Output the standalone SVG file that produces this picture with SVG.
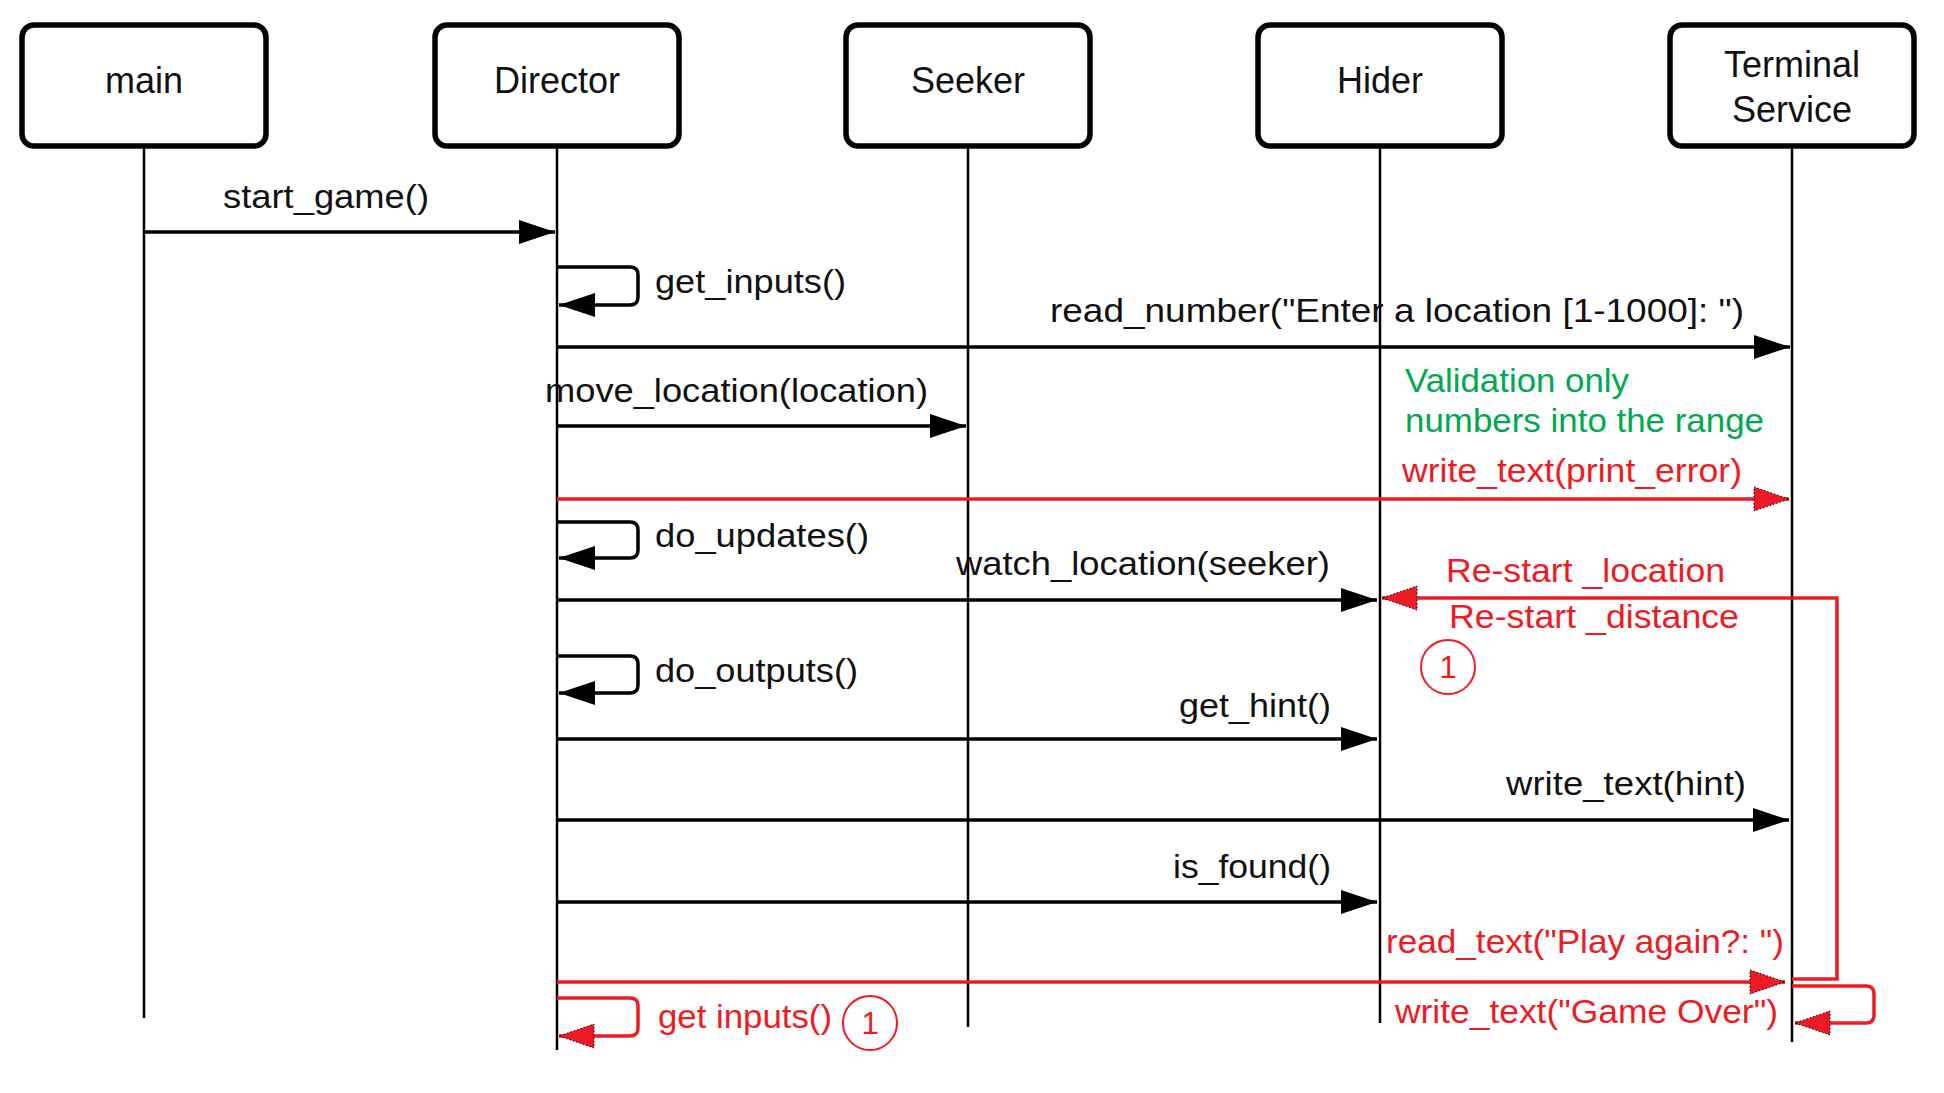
<svg xmlns="http://www.w3.org/2000/svg" width="1944" height="1093" viewBox="0 0 1944 1093">
<style>
.box{fill:#fff;stroke:#000;stroke-width:5.5}
.life{stroke:#000;stroke-width:2.5;fill:none}
.msg{stroke:#000;stroke-width:3.5;fill:none}
.rmsg{stroke:#ED1C24;stroke-width:3.5;fill:none}
.lbl{font-family:"Liberation Sans",Arial,sans-serif;font-size:36px;fill:#111;text-anchor:middle}
.t{font-family:"Liberation Sans",Arial,sans-serif;font-size:34px;fill:#111}
.tr{font-family:"Liberation Sans",Arial,sans-serif;font-size:34px;fill:#ED1C24}
.tg{font-family:"Liberation Sans",Arial,sans-serif;font-size:34px;fill:#00A94F}
.circ{fill:none;stroke:#ED1C24;stroke-width:2}
.num{font-family:"Liberation Sans",Arial,sans-serif;font-size:31px;fill:#ED1C24;text-anchor:middle}
</style>
<defs>
<marker id="ah" markerUnits="userSpaceOnUse" markerWidth="36" markerHeight="24" refX="36" refY="12" orient="auto">
<path d="M0,0 L36,12 L0,24 z" fill="#000"/>
</marker>
<marker id="rah" markerUnits="userSpaceOnUse" markerWidth="38" markerHeight="26" refX="36" refY="13" orient="auto">
<path d="M1,1 L36,13 L1,25 z" fill="#ED1C24" stroke="#000" stroke-width="1" stroke-dasharray="1.5 2"/>
</marker>
</defs>
<rect width="1944" height="1093" fill="#fff"/>

<g id="main">
<rect class="box" x="22" y="25" width="244" height="121" rx="12"/>
<text class="lbl" x="144" y="93">main</text>
<line class="life" x1="144" y1="148" x2="144" y2="1018"/>
</g>
<g id="director">
<rect class="box" x="435" y="25" width="244" height="121" rx="12"/>
<text class="lbl" x="557" y="93">Director</text>
<line class="life" x1="557" y1="148" x2="557" y2="1050"/>
</g>
<g id="seeker">
<rect class="box" x="846" y="25" width="244" height="121" rx="12"/>
<text class="lbl" x="968" y="93">Seeker</text>
<line class="life" x1="968" y1="148" x2="968" y2="1027"/>
</g>
<g id="hider">
<rect class="box" x="1258" y="25" width="244" height="121" rx="12"/>
<text class="lbl" x="1380" y="93">Hider</text>
<line class="life" x1="1380" y1="148" x2="1380" y2="1023"/>
</g>
<g id="terminal">
<rect class="box" x="1670" y="25" width="244" height="121" rx="12"/>
<text class="lbl" x="1792" y="77">Terminal</text>
<text class="lbl" x="1792" y="122">Service</text>
<line class="life" x1="1792" y1="148" x2="1792" y2="1042"/>
</g>

<g id="connectors">
<line class="msg" x1="144" y1="232" x2="555" y2="232" marker-end="url(#ah)"/>
<path class="msg" d="M557,267 H630 Q638,267 638,275 V297 Q638,305 630,305 H559" marker-end="url(#ah)"/>
<line class="msg" x1="557" y1="347" x2="1790" y2="347" marker-end="url(#ah)"/>
<line class="msg" x1="557" y1="426" x2="966" y2="426" marker-end="url(#ah)"/>
<line class="rmsg" x1="557" y1="499" x2="1789" y2="499" marker-end="url(#rah)"/>
<path class="msg" d="M557,522 H630 Q638,522 638,530 V550 Q638,558 630,558 H559" marker-end="url(#ah)"/>
<line class="msg" x1="557" y1="600" x2="1377" y2="600" marker-end="url(#ah)"/>
<path class="rmsg" d="M1792,979 H1837 V598 H1382" marker-end="url(#rah)"/>
<path class="msg" d="M557,656 H630 Q638,656 638,664 V685 Q638,693 630,693 H559" marker-end="url(#ah)"/>
<line class="msg" x1="557" y1="739" x2="1377" y2="739" marker-end="url(#ah)"/>
<line class="msg" x1="557" y1="820" x2="1789" y2="820" marker-end="url(#ah)"/>
<line class="msg" x1="557" y1="902" x2="1377" y2="902" marker-end="url(#ah)"/>
<line class="rmsg" x1="557" y1="982" x2="1785" y2="982" marker-end="url(#rah)"/>
<path class="rmsg" d="M557,998 H630 Q638,998 638,1006 V1028 Q638,1036 630,1036 H559" marker-end="url(#rah)"/>
<path class="rmsg" d="M1792,986 H1866 Q1874,986 1874,994 V1015 Q1874,1023 1866,1023 H1795" marker-end="url(#rah)"/>
</g>

<g id="labels">
<text class="t" x="223" y="208" textLength="206" lengthAdjust="spacingAndGlyphs">start_game()</text>
<text class="t" x="655" y="293" textLength="191" lengthAdjust="spacingAndGlyphs">get_inputs()</text>
<text class="t" x="1050" y="322" textLength="694" lengthAdjust="spacingAndGlyphs">read_number("Enter a location [1-1000]: ")</text>
<text class="t" x="545" y="402" textLength="383" lengthAdjust="spacingAndGlyphs">move_location(location)</text>
<text class="tg" x="1405" y="392" textLength="224" lengthAdjust="spacingAndGlyphs">Validation only</text>
<text class="tg" x="1405" y="432" textLength="359" lengthAdjust="spacingAndGlyphs">numbers into the range</text>
<text class="tr" x="1402" y="482" textLength="340" lengthAdjust="spacingAndGlyphs">write_text(print_error)</text>
<text class="t" x="655" y="547" textLength="214" lengthAdjust="spacingAndGlyphs">do_updates()</text>
<text class="t" x="956" y="575" textLength="374" lengthAdjust="spacingAndGlyphs">watch_location(seeker)</text>
<text class="tr" x="1446" y="582" textLength="279" lengthAdjust="spacingAndGlyphs">Re-start _location</text>
<text class="tr" x="1449" y="628" textLength="290" lengthAdjust="spacingAndGlyphs">Re-start _distance</text>
<circle class="circ" cx="1448" cy="667" r="27"/>
<text class="num" x="1448" y="678">1</text>
<text class="t" x="655" y="682" textLength="203" lengthAdjust="spacingAndGlyphs">do_outputs()</text>
<text class="t" x="1179" y="717" textLength="152" lengthAdjust="spacingAndGlyphs">get_hint()</text>
<text class="t" x="1506" y="795" textLength="240" lengthAdjust="spacingAndGlyphs">write_text(hint)</text>
<text class="t" x="1173" y="878" textLength="158" lengthAdjust="spacingAndGlyphs">is_found()</text>
<text class="tr" x="1386" y="953" textLength="398" lengthAdjust="spacingAndGlyphs">read_text("Play again?: ")</text>
<text class="tr" x="658" y="1028" textLength="174" lengthAdjust="spacingAndGlyphs">get inputs()</text>
<circle class="circ" cx="870" cy="1023" r="27"/>
<text class="num" x="870" y="1034">1</text>
<text class="tr" x="1395" y="1023" textLength="383" lengthAdjust="spacingAndGlyphs">write_text("Game Over")</text>
</g>
</svg>
